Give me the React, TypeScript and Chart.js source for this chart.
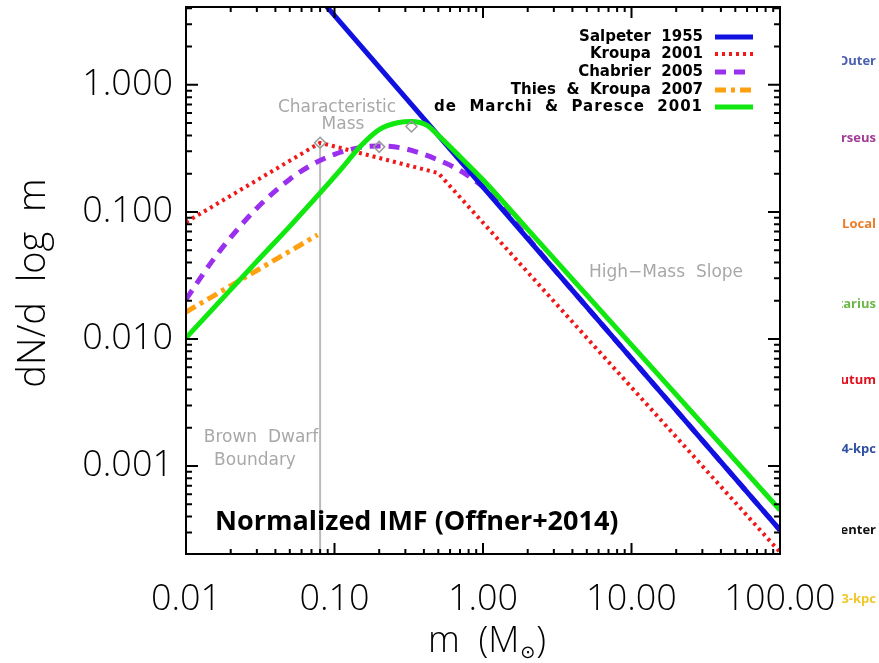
import React, { useEffect, useRef } from 'react';
import { Chart, registerables } from 'chart.js';
Chart.register(...registerables);

// ---- data ----
const salpeterMass = [0.05, 100];
const salpeterValue = [8.95, 0.000313];

const kroupaMass = [0.01, 0.08, 0.5, 100];
const kroupaValue = [0.083, 0.35, 0.202, 0.00021];

const chabrierMass = [0.01, 0.015, 0.02, 0.03, 0.05, 0.07, 0.1, 0.15, 0.2, 0.3, 0.5, 0.7, 0.85, 1.0, 3, 10, 30, 100];
const chabrierValue = [0.0205, 0.041, 0.063, 0.107, 0.181, 0.234, 0.284, 0.322, 0.33, 0.314, 0.256, 0.212, 0.182, 0.157, 0.0356, 0.00701, 0.00159, 0.000313];

const thiesMass = [0.01, 0.077];
const thiesValue = [0.0163, 0.066];

const deMarchiMass = [0.01, 0.03, 0.05, 0.08, 0.11, 0.15, 0.2, 0.27, 0.33, 0.42, 0.5, 0.7, 1.0, 2, 10, 100];
const deMarchiValue = [0.0102, 0.0408, 0.077, 0.141, 0.215, 0.33, 0.445, 0.505, 0.515, 0.48, 0.4, 0.272, 0.179, 0.0728, 0.00898, 0.00045];

const charMass = [0.08, 0.2, 0.33];
const charValue = [0.35, 0.325, 0.47];

const bdMass = [0.08, 0.08];
const bdValue = [0.35, 0.00018];

const xTickValues = [0.01, 0.1, 1, 10, 100];
const xTickLabels = ['0.01', '0.10', '1.00', '10.00', '100.00'];
const yTickValues = [0.001, 0.01, 0.1, 1];
const yTickLabels = ['0.001', '0.010', '0.100', '1.000'];

const seriesLabels = ['Salpeter  1955', 'Kroupa  2001', 'Chabrier  2005', 'Thies  &  Kroupa  2007', 'de  Marchi  &  Paresce  2001'];

const sideLabels = ['Outer', 'Perseus', 'Local', 'Sagittarius', 'Scutum', '4-kpc', 'Center', '3-kpc'];
const sideColors = ['#4a5fb0', '#a03c96', '#e87d2a', '#6cb848', '#e0101e', '#3050a0', '#111111', '#f0c828'];

const X_MIN = 0.01, X_MAX = 100, Y_MIN = 0.000203, Y_MAX = 4.1;

const zip = (m: number[], v: number[]) => m.map((x, i) => ({ x, y: v[i] }));

const decorPlugin = {
  id: 'decor',
  afterDatasetsDraw(chart: any) {
    const { ctx, chartArea: a, scales } = chart;
    const xs = scales.x, ys = scales.y;
    ctx.save();
    // frame
    ctx.strokeStyle = '#000';
    ctx.lineWidth = 2;
    ctx.strokeRect(a.left, a.top, a.right - a.left, a.bottom - a.top);
    // inward ticks
    ctx.beginPath();
    for (let e = -2; e <= 2; e++) {
      for (let k = 1; k <= 9; k++) {
        const v = k * Math.pow(10, e);
        if (v < X_MIN - 1e-9 || v > X_MAX + 1e-9) continue;
        const px = xs.getPixelForValue(v);
        const len = k === 1 ? 11 : 5;
        ctx.moveTo(px, a.bottom); ctx.lineTo(px, a.bottom - len);
        ctx.moveTo(px, a.top); ctx.lineTo(px, a.top + len);
      }
    }
    for (let e = -4; e <= 0; e++) {
      for (let k = 1; k <= 9; k++) {
        const v = k * Math.pow(10, e);
        if (v < Y_MIN || v > Y_MAX) continue;
        const py = ys.getPixelForValue(v);
        const len = k === 1 ? 12 : 6;
        ctx.moveTo(a.left, py); ctx.lineTo(a.left + len, py);
        ctx.moveTo(a.right, py); ctx.lineTo(a.right - len, py);
      }
    }
    ctx.stroke();

    // legend (inside plot, top right)
    const rows = [37, 54, 72, 90, 107];
    ctx.font = 'bold 15px "DejaVu Sans"';
    ctx.textAlign = 'right';
    ctx.textBaseline = 'middle';
    chart.data.datasets.slice(0, 5).forEach((ds: any, i: number) => {
      const yy = rows[i];
      ctx.fillStyle = '#000';
      (ctx as any).letterSpacing = i === 4 ? '1px' : '0px';
      ctx.fillText(ds.label, 703, yy);
      ctx.strokeStyle = ds.borderColor;
      ctx.lineWidth = ds.borderWidth;
      ctx.setLineDash(ds.borderDash || []);
      ctx.beginPath();
      ctx.moveTo(715, yy); ctx.lineTo(753, yy);
      ctx.stroke();
    });
    (ctx as any).letterSpacing = '0px';
    ctx.setLineDash([]);

    // gray annotations
    ctx.fillStyle = '#a8a8a8';
    ctx.font = '17px "DejaVu Sans"';
    ctx.textAlign = 'center';
    ctx.fillText('Characteristic', 337, 108);
    ctx.fillText('Mass', 343, 125);
    ctx.fillText('Brown  Dwarf', 261, 438);
    ctx.fillText('Boundary', 255, 461);
    ctx.fillText('High\u2212Mass  Slope', 666, 273);

    // overlay caption
    ctx.fillStyle = '#000';
    ctx.font = 'bold 27px "Open Sans"';
    ctx.textAlign = 'left';
    ctx.fillText('Normalized IMF (Offner+2014)', 215, 522);
    ctx.restore();
  },
  afterDraw(chart: any) {
    const { ctx } = chart;
    ctx.save();
    // y title
    ctx.fillStyle = '#000';
    ctx.font = '300 38px "Open Sans"';
    ctx.textAlign = 'center';
    ctx.textBaseline = 'middle';
    ctx.translate(34, 283);
    ctx.rotate(-Math.PI / 2);
    ctx.fillText('dN/d  log  m', 0, 0);
    ctx.restore();

    // x title with subscript sun symbol
    ctx.save();
    ctx.fillStyle = '#000';
    ctx.textBaseline = 'alphabetic';
    const big = '300 36px "Open Sans"';
    const small = '18px "DejaVu Sans"';
    ctx.font = big;
    const p1 = 'm  (M';
    const w1 = ctx.measureText(p1).width;
    const w3 = ctx.measureText(')').width;
    ctx.font = small;
    const w2 = ctx.measureText('\u2299').width;
    const total = w1 + w2 + w3 + 2;
    const x0 = 487 - total / 2;
    const base = 652;
    ctx.font = big;
    ctx.textAlign = 'left';
    ctx.fillText(p1, x0, base);
    ctx.font = small;
    ctx.fillText('\u2299', x0 + w1 + 1, base + 6);
    ctx.font = big;
    ctx.fillText(')', x0 + w1 + w2 + 2, base);
    ctx.restore();

    // clipped labels on the right edge
    ctx.save();
    ctx.beginPath();
    ctx.rect(842, 0, 40, 663);
    ctx.clip();
    ctx.font = 'bold 13px "Open Sans"';
    ctx.textAlign = 'right';
    ctx.textBaseline = 'middle';
    const ys = [61, 138, 224, 304, 380, 449, 530, 599];
    sideLabels.forEach((t, i) => {
      ctx.fillStyle = sideColors[i];
      ctx.fillText(t, 876, ys[i]);
    });
    ctx.restore();
  },
};

export default function App() {
  const ref = useRef<HTMLCanvasElement>(null);
  useEffect(() => {
    const tickFont = { family: '"Open Sans"', size: 36, weight: '300' as any };
    const chart = new Chart(ref.current as HTMLCanvasElement, {
      type: 'scatter',
      data: {
        datasets: [
          {
            label: seriesLabels[0], data: zip(salpeterMass, salpeterValue), showLine: true,
            borderColor: '#1010e0', borderWidth: 5, pointRadius: 0, order: 1,
          },
          {
            label: seriesLabels[1], data: zip(kroupaMass, kroupaValue), showLine: true,
            borderColor: '#f01818', borderWidth: 4, borderDash: [3, 4], pointRadius: 0, order: 3,
          },
          {
            label: seriesLabels[2], data: zip(chabrierMass, chabrierValue), showLine: true,
            borderColor: '#9a30ee', borderWidth: 5, borderDash: [11, 8], pointRadius: 0, order: 2,
            cubicInterpolationMode: 'monotone',
          },
          {
            label: seriesLabels[3], data: zip(thiesMass, thiesValue), showLine: true,
            borderColor: '#ffa010', borderWidth: 5, borderDash: [11, 5, 4, 5], pointRadius: 0, order: 4,
          },
          {
            label: seriesLabels[4], data: zip(deMarchiMass, deMarchiValue), showLine: true,
            borderColor: '#10e810', borderWidth: 5, pointRadius: 0, order: 0,
            cubicInterpolationMode: 'monotone',
          },
          {
            label: 'bd', data: zip(bdMass, bdValue), showLine: true,
            borderColor: '#bbbbbb', borderWidth: 2, pointRadius: 0, order: 6,
          },
          {
            label: 'char', data: zip(charMass, charValue), showLine: false,
            pointStyle: 'rectRot', pointRadius: 5.5, borderColor: '#999999', borderWidth: 1.5,
            backgroundColor: 'rgba(255,255,255,0)', order: -1,
          },
        ] as any,
      },
      options: {
        responsive: false,
        animation: false,
        events: [],
        layout: { padding: { left: 0, top: 7, right: 99, bottom: 0 } },
        plugins: { legend: { display: false }, tooltip: { enabled: false } },
        scales: {
          x: {
            type: 'logarithmic', min: X_MIN, max: X_MAX,
            grid: { display: false, drawTicks: false },
            border: { display: false },
            afterBuildTicks: (s: any) => { s.ticks = xTickValues.map((v) => ({ value: v })); },
            afterFit: (s: any) => { s.height = 109; s.paddingLeft = 0; s.paddingRight = 0; },
            ticks: {
              autoSkip: false, maxRotation: 0, padding: 24, color: '#000', font: tickFont,
              callback: (_v: any, i: number) => xTickLabels[i],
            },
          },
          y: {
            type: 'logarithmic', min: Y_MIN, max: Y_MAX,
            grid: { display: false, drawTicks: false },
            border: { display: false },
            afterBuildTicks: (s: any) => { s.ticks = yTickValues.map((v) => ({ value: v })); },
            afterFit: (s: any) => { s.width = 186; s.paddingTop = 0; s.paddingBottom = 0; },
            ticks: {
              autoSkip: false, padding: 13, color: '#000', font: tickFont,
              callback: (_v: any, i: number) => yTickLabels[i],
            },
          },
        },
      } as any,
      plugins: [decorPlugin],
    });
    return () => chart.destroy();
  }, []);
  return (
    <div style={{ position: 'absolute', left: 0, top: 0, width: 879, height: 663, background: '#fff' }}>
      <canvas ref={ref} width={879} height={663} />
    </div>
  );
}
